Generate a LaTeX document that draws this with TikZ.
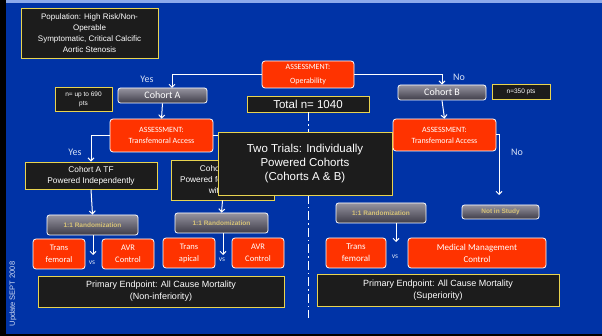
\documentclass[tikz,border=0pt]{standalone}
\usepackage{fontspec}
\setmainfont{Liberation Sans}
\newfontfamily\calib{Carlito}
\usetikzlibrary{arrows.meta}
\definecolor{bgblue}{RGB}{0,51,166}
\definecolor{topband}{RGB}{140,170,235}
\definecolor{boxblack}{RGB}{28,28,28}
\definecolor{boxyellow}{RGB}{232,212,80}
\definecolor{redbox}{RGB}{255,51,0}
\definecolor{khaki}{RGB}{215,195,120}
\definecolor{labelblue}{RGB}{215,225,245}
\definecolor{graytop}{RGB}{150,148,160}
\definecolor{graybot}{RGB}{62,60,72}
\begin{document}
\begin{tikzpicture}[x=1pt,y=-1pt,
 blackbox/.style={draw=boxyellow, line width=0.9pt, fill=boxblack, text=white, align=center, inner sep=1pt},
 redrect/.style={draw=white, line width=0.8pt, fill=redbox, rounded corners=3pt, text=white, align=center, inner sep=1pt},
 graybox/.style={draw=white, line width=0.8pt, rounded corners=2.5pt, top color=graytop, bottom color=graybot, text=white, align=center, inner sep=1pt},
 randbox/.style={graybox, text=khaki, font=\bfseries\fontsize{6.5}{8}\selectfont},
 conn/.style={draw=white, line width=1pt},
 arr/.style={conn, -{Straight Barb[length=3pt,width=6pt]}},
 lbl/.style={text=labelblue, font=\calib\fontsize{10}{12}\selectfont, inner sep=0pt},
 vslbl/.style={text=labelblue, font=\calib\fontsize{7.5}{8}\selectfont, inner sep=0pt},
 sz/.style 2 args={minimum width=#1pt, minimum height=#2pt}
]
\useasboundingbox (0,0) rectangle (602,336);
\fill[bgblue] (0,0) rectangle (602,336);
\fill[black] (0,0) rectangle (6,336);
\fill[topband] (6,0.5) rectangle (602,3);
\fill[black] (0,334.5) rectangle (602,336);

% top level
\node[blackbox, sz={137}{50}, font=\fontsize{8}{11}\selectfont] (pop) at (89.5,33)
  {Population: High Risk/Non-\\Operable\\Symptomatic, Critical Calcific\\Aortic Stenosis};
\node[redrect, sz={92}{27}, font=\calib\fontsize{8}{13.5}\selectfont] (op) at (308,74.5) {ASSESSMENT:\\Operability};
\node[blackbox, sz={122}{16}, font=\fontsize{11.5}{12}\selectfont] (total) at (308,104) {Total n= 1040};

\node[graybox, sz={89}{15}, font=\calib\fontsize{10}{12}\selectfont] (cA) at (162.5,95.5) {Cohort A};
\node[blackbox, sz={57}{24}, font=\fontsize{6.5}{9}\selectfont] (nA) at (83.5,99) {n= up to 690\\pts};
\node[graybox, sz={88}{15}, font=\calib\fontsize{10}{12}\selectfont] (cB) at (442,92.5) {Cohort B};
\node[blackbox, sz={58}{15}, font=\fontsize{6.5}{8}\selectfont] (nB) at (521,91.5) {n=350 pts};

\node[redrect, sz={103}{33}, font=\calib\fontsize{8}{11}\selectfont] (tfA) at (161.5,135.5) {ASSESSMENT:\\Transfemoral Access};
\node[redrect, sz={103}{32}, font=\calib\fontsize{8}{11}\selectfont] (tfB) at (444.5,135) {ASSESSMENT:\\Transfemoral Access};

\node[blackbox, sz={132}{27}, font=\fontsize{8.3}{11}\selectfont] (cATF) at (91,175.5) {Cohort A TF\\Powered Independently};
\node[blackbox, sz={103}{40}, font=\fontsize{8.3}{11}\selectfont] (cATA) at (222.5,180) {Cohort A TA\\Powered for Combined\\with TF};

\node[randbox, sz={91}{20}] (rA1) at (92.5,225) {1:1 Randomization};
\node[randbox, sz={93}{20}] (rA2) at (221.5,223) {1:1 Randomization};
\node[randbox, sz={90}{20}] (rB) at (381,213) {1:1 Randomization};
\node[randbox, sz={77}{14}] (nis) at (500.5,212) {Not in Study};

\node[redrect, sz={52}{30}, font=\calib\fontsize{8.5}{12}\selectfont] (tf1) at (59,254) {Trans\\femoral};
\node[redrect, sz={52}{30}, font=\calib\fontsize{8.5}{12}\selectfont] (avr1) at (128,254) {AVR\\Control};
\node[redrect, sz={52}{30}, font=\calib\fontsize{8.5}{12}\selectfont] (ta) at (189,253) {Trans\\apical};
\node[redrect, sz={52}{30}, font=\calib\fontsize{8.5}{12}\selectfont] (avr2) at (258,253) {AVR\\Control};
\node[redrect, sz={60}{30}, font=\calib\fontsize{9}{12}\selectfont] (tf2) at (356,253) {Trans\\femoral};
\node[redrect, sz={138}{30}, font=\calib\fontsize{9}{12}\selectfont] (mm) at (477,253) {Medical Management\\Control};

\node[blackbox, sz={246}{31}, font=\fontsize{9}{12}\selectfont] (pe1) at (161,291.5) {Primary Endpoint: All Cause Mortality\\(Non-inferiority)};
\node[blackbox, sz={242}{32}, font=\fontsize{9}{12}\selectfont] (pe2) at (438,290) {Primary Endpoint: All Cause Mortality\\(Superiority)};

% labels
\node[lbl] (yes1) at (147,79) {Yes};
\node[lbl] (no1) at (459,77) {No};
\node[lbl] (yes2) at (75,152) {Yes};
\node[lbl] (no2) at (517,152) {No};
\node[vslbl] (vs1) at (92,263) {vs};
\node[vslbl] (vs2) at (222,260) {vs};
\node[vslbl] (vs3) at (395,257) {vs};
\node[text=labelblue, font=\fontsize{7.5}{9}\selectfont, rotate=90, inner sep=0pt] (upd) at (13,294) {Update SEPT 2008};

% free ends
\coordinate (cAin) at (172,88);
\coordinate (nisin) at (499,195);
\coordinate (e1) at (93,255);
\coordinate (e2) at (223,255);
\coordinate (r3) at (396,223);
\coordinate (e3) at (396,242);
\coordinate (dashend) at (308,318);

% connectors
\draw[arr] (op.west) -| (cAin);
\draw[arr] (op.east) -| (cB.north);
\draw[arr] (cA.south) -- (tfA.north);
\draw[arr] (cB.south) -- (tfB.north);
\draw[arr] (tfA.west) -| (cATF.north);
\draw[conn] (tfA.east) -| (cATA.north);
\draw[arr] (cATF.south) -- (rA1.north);
\draw[arr] (cATA.south) -- (rA2.north);
\draw[arr] (rA1.south -| e1) -- (e1);
\draw[arr] (rA2.south -| e2) -- (e2);
\draw[arr] (r3) -- (e3);
\draw[arr] (tfB.east) -| (nisin);
\draw[conn, dash pattern=on 9pt off 3pt on 1.5pt off 3pt] (total.south) -- (dashend);

% overlay box
\node[blackbox, sz={174}{63}, font=\fontsize{11.5}{14}\selectfont] (two) at (305,163.5) {Two Trials: Individually\\Powered Cohorts\\(Cohorts A \& B)};
\end{tikzpicture}
\end{document}
